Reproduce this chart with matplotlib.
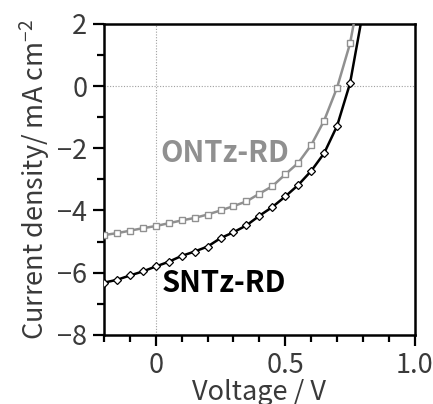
import matplotlib
matplotlib.use("Agg")
import matplotlib.pyplot as plt
from matplotlib.ticker import MultipleLocator

plt.rcParams['font.family'] = ['Noto Sans CJK JP', 'DejaVu Sans']

# voltage (V) at each marker
voltage = [-0.20, -0.15, -0.10, -0.05, 0.00, 0.05, 0.10, 0.15, 0.20, 0.25,
           0.30, 0.35, 0.40, 0.45, 0.50, 0.55, 0.60, 0.65, 0.70, 0.75, 0.80]

# current density (mA cm-2)
ontz = [-4.79, -4.73, -4.65, -4.57, -4.50, -4.41, -4.32, -4.24, -4.13, -4.00,
        -3.86, -3.71, -3.46, -3.22, -2.84, -2.47, -1.90, -1.11, -0.05, 1.37, 3.6]
sntz = [-6.32, -6.23, -6.09, -5.96, -5.80, -5.65, -5.46, -5.32, -5.16, -4.89,
        -4.70, -4.48, -4.17, -3.89, -3.55, -3.18, -2.73, -2.16, -1.28, 0.09, 2.4]

GRAY = '#909090'
TXT = '#3a3a3a'

fig = plt.figure(figsize=(4.33, 4.04), dpi=100)
ax = fig.add_axes([0.240, 0.171, 0.718, 0.770])

ax.axhline(0, color='#a0a0a0', lw=0.8, ls=(0, (1, 1.5)), zorder=1)
ax.axvline(0, color='#a0a0a0', lw=0.8, ls=(0, (1, 1.5)), zorder=1)

ax.plot(voltage, ontz, color=GRAY, lw=1.8, marker='s', ms=4.2,
        mfc='white', mec=GRAY, mew=1.0, zorder=3)
ax.plot(voltage, sntz, color='black', lw=1.8, marker='D', ms=3.6,
        mfc='white', mec='black', mew=0.9, zorder=4)

ax.text(0.265, -2.15, 'ONTz-RD', color=GRAY, fontsize=21, fontweight='bold',
        ha='center', va='center')
ax.text(0.265, -6.33, 'SNTz-RD', color='black', fontsize=21, fontweight='bold',
        ha='center', va='center')

ax.set_xlim(-0.2, 1.0)
ax.set_ylim(-8, 2)
ax.xaxis.set_minor_locator(MultipleLocator(0.1))
ax.yaxis.set_minor_locator(MultipleLocator(1))
ax.set_xticks([0, 0.5, 1.0])
ax.set_xticklabels(['0', '0.5', '1.0'])
ax.set_yticks([2, 0, -2, -4, -6, -8])
ax.set_yticklabels(['2', '0', '\u22122', '\u22124', '\u22126', '\u22128'])

for s in ax.spines.values():
    s.set_linewidth(1.8)
ax.tick_params(which='both', direction='out', width=1.6, labelsize=19.5,
               colors='black', labelcolor=TXT)
ax.tick_params(which='major', length=8, pad=4)
ax.tick_params(which='minor', length=5)

ax.set_ylabel('Current density/ mA cm$^{\\mathregular{-2}}$', fontsize=19.5,
              color=TXT, labelpad=4)
ax.set_xlabel('Voltage / V', fontsize=19.5, color=TXT, labelpad=0)

fig.savefig('out.png', dpi=100)
